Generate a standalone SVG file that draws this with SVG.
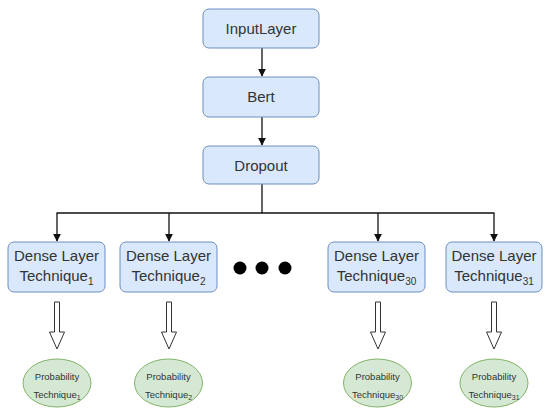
<svg xmlns="http://www.w3.org/2000/svg" width="550" height="416" viewBox="0 0 550 416">
<defs>
<marker id="ah" viewBox="0 0 10 10" refX="9" refY="5" markerWidth="8" markerHeight="8" markerUnits="userSpaceOnUse" orient="auto">
<path d="M0,0 L10,5 L0,10 Z" fill="#111"/>
</marker>
<g id="hollow">
<path d="M-2.5,0 L2.5,0 L2.5,30 L7.5,30 L0,47 L-7.5,30 L-2.5,30 Z" fill="#fff" stroke="#333" stroke-width="1"/>
</g>
</defs>
<style>
.box{fill:#dae8fc;stroke:#6c8ebf;stroke-width:1}
.ell{fill:#d5e8d4;stroke:#82b366;stroke-width:1}
.t{font-family:"Liberation Sans",Arial,sans-serif;font-size:15px;fill:#333;text-anchor:middle}
.s{font-family:"Liberation Sans",Arial,sans-serif;font-size:9.5px;fill:#333;text-anchor:middle}
.c{fill:none;stroke:#111;stroke-width:1.3}
</style>
<rect width="550" height="416" fill="#fff"/>
<g id="connectors">
<line class="c" x1="262" y1="48" x2="262" y2="76" marker-end="url(#ah)"/>
<line class="c" x1="262" y1="117" x2="262" y2="145" marker-end="url(#ah)"/>
<polyline class="c" points="262,184 262,213"/>
<line class="c" x1="56.5" y1="213" x2="494.5" y2="213"/>
<line class="c" x1="57" y1="213" x2="57" y2="241" marker-end="url(#ah)"/>
<line class="c" x1="169" y1="213" x2="169" y2="241" marker-end="url(#ah)"/>
<line class="c" x1="378" y1="213" x2="378" y2="241" marker-end="url(#ah)"/>
<line class="c" x1="494" y1="213" x2="494" y2="241" marker-end="url(#ah)"/>
<use href="#hollow" x="57" y="302"/>
<use href="#hollow" x="169" y="302"/>
<use href="#hollow" x="378" y="302"/>
<use href="#hollow" x="494" y="302"/>
</g>
<g id="input"><rect class="box" x="203" y="9" width="116" height="39" rx="6"/><text class="t" x="261" y="34">InputLayer</text></g>
<g id="bert"><rect class="box" x="203" y="77" width="116" height="40" rx="6"/><text class="t" x="261" y="102">Bert</text></g>
<g id="dropout"><rect class="box" x="203" y="146" width="116" height="38" rx="6"/><text class="t" x="261" y="171">Dropout</text></g>
<g id="dense1"><rect class="box" x="8" y="242" width="97" height="50" rx="6"/><text class="t" x="56.5" y="261">Dense Layer</text><text class="t" x="56.5" y="281">Technique<tspan font-size="10" dy="4">1</tspan></text></g>
<g id="dense2"><rect class="box" x="120" y="242" width="97" height="50" rx="6"/><text class="t" x="168.5" y="261">Dense Layer</text><text class="t" x="168.5" y="281">Technique<tspan font-size="10" dy="4">2</tspan></text></g>
<g id="dots"><circle cx="240" cy="268" r="6.5" fill="#000"/><circle cx="262" cy="268" r="6.5" fill="#000"/><circle cx="285" cy="268" r="6.5" fill="#000"/></g>
<g id="dense30"><rect class="box" x="328" y="242" width="97" height="50" rx="6"/><text class="t" x="376.5" y="261">Dense Layer</text><text class="t" x="376.5" y="281">Technique<tspan font-size="10" dy="4">30</tspan></text></g>
<g id="dense31"><rect class="box" x="446" y="242" width="96" height="50" rx="6"/><text class="t" x="494" y="261">Dense Layer</text><text class="t" x="494" y="281">Technique<tspan font-size="10" dy="4">31</tspan></text></g>
<g id="prob1"><ellipse class="ell" cx="57" cy="383" rx="34" ry="24"/><text class="s" x="57" y="380">Probability</text><text class="s" x="57" y="398">Technique<tspan font-size="7" dy="2">1</tspan></text></g>
<g id="prob2"><ellipse class="ell" cx="168.5" cy="383" rx="34" ry="24"/><text class="s" x="168.5" y="380">Probability</text><text class="s" x="168.5" y="398">Technique<tspan font-size="7" dy="2">2</tspan></text></g>
<g id="prob30"><ellipse class="ell" cx="377.5" cy="383" rx="34" ry="24"/><text class="s" x="377.5" y="380">Probability</text><text class="s" x="377.5" y="398">Technique<tspan font-size="7" dy="2">30</tspan></text></g>
<g id="prob31"><ellipse class="ell" cx="494" cy="383" rx="34" ry="24"/><text class="s" x="494" y="380">Probability</text><text class="s" x="494" y="398">Technique<tspan font-size="7" dy="2">31</tspan></text></g>
</svg>
